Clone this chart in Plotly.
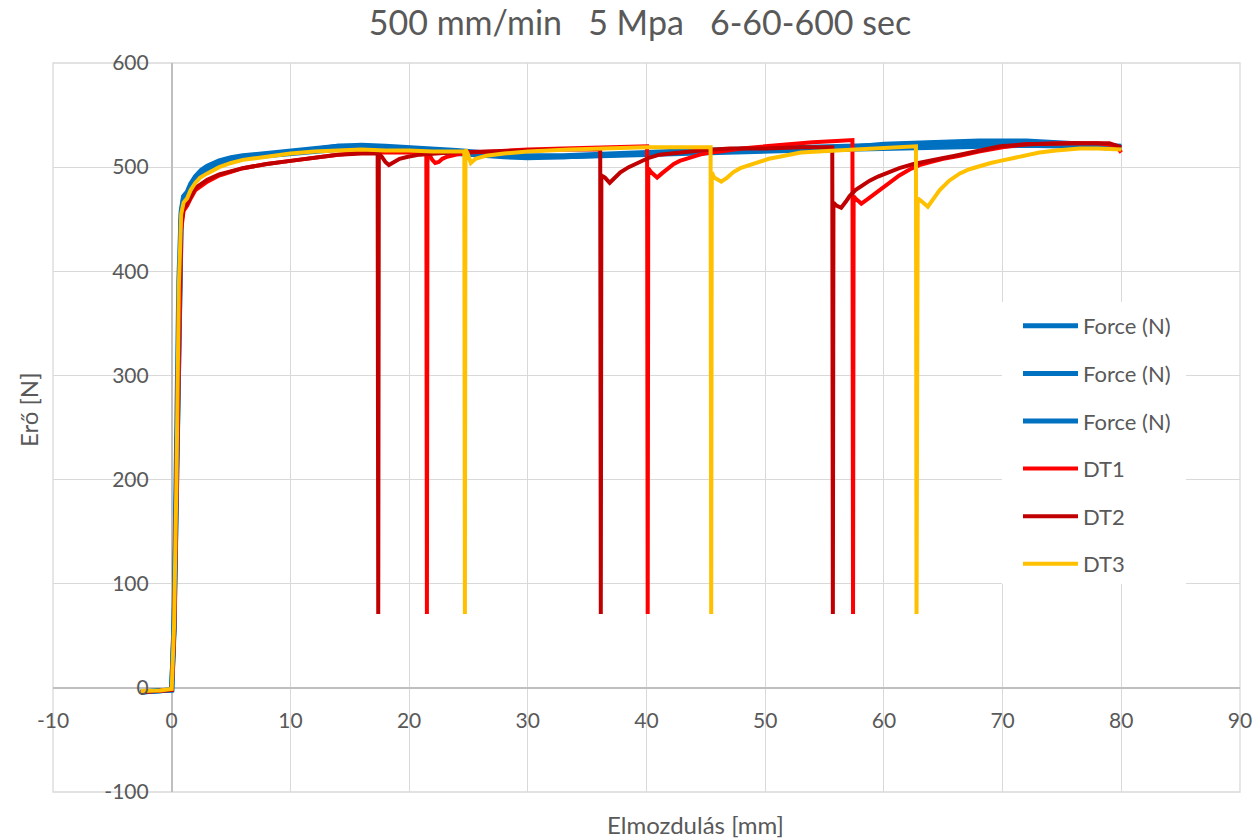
import plotly.graph_objects as go

# Displacement (mm) / force (N) curves: three reference force runs and three DT runs
f1_x = [-2.6, -1, 0, 0.2, 0.4, 0.6, 0.8, 1.0, 1.3, 1.6, 2, 2.5, 3, 4, 5, 6, 8, 10, 12, 14, 16, 18, 20, 22, 24, 26, 28, 30, 33, 36, 40, 44, 48, 52, 56, 60, 64, 68, 72, 76, 80]
f1_y = [-4, -3, -2, 60, 200, 380, 455, 470, 474, 482, 490, 496, 500, 505, 508, 510, 512, 514, 517, 520, 521, 520, 519, 518, 516, 514, 512, 511, 511, 512, 514, 516, 517, 518, 519, 521, 523, 524, 524, 522, 519]

f2_x = [-2.6, -1, 0, 0.2, 0.4, 0.6, 0.8, 1.0, 1.3, 1.6, 2, 2.5, 3, 4, 5, 6, 8, 10, 12, 14, 16, 18, 20, 22, 24, 26, 28, 30, 33, 36, 40, 44, 48, 52, 56, 60, 64, 68, 72, 76, 80]
f2_y = [-4, -3, -2, 55, 190, 370, 450, 466, 471, 479, 487, 494, 498, 503, 506, 509, 511, 513, 515, 518, 519, 518, 517, 515, 513, 511, 510, 509, 510, 511, 513, 514, 515, 516, 517, 518, 520, 521, 521, 520, 518]

f3_x = [-2.6, -1, 0, 0.2, 0.4, 0.6, 0.8, 1.0, 1.3, 1.6, 2, 2.5, 3, 4, 5, 6, 8, 10, 12, 14, 16, 18, 20, 22, 24, 26, 28, 30, 33, 36, 40, 44, 48, 52, 56, 60, 64, 68, 72, 76, 80]
f3_y = [-4, -3, -2, 65, 210, 390, 458, 472, 476, 484, 491, 497, 501, 506, 509, 511, 513, 515, 518, 520, 520, 519, 518, 517, 515, 513, 511, 510, 510, 511, 513, 515, 516, 517, 518, 522, 524, 525, 525, 523, 520]

dt1_x = [-2.6, -1, 0, 0.2, 0.4, 0.6, 0.8, 1.0, 1.3, 1.6, 2, 3, 4, 6, 8, 10, 12, 14, 16, 18, 20, 21.45, 21.5, 21.55, 21.7, 21.95, 22.2, 22.5, 22.8, 23.2, 24, 25, 27, 30, 33, 36, 38, 40.05, 40.1, 40.15, 40.4, 40.9, 41.3, 41.8, 42.3, 42.8, 43.6, 44.5, 45.3, 46.2, 48, 50, 52, 54, 56, 57.35, 57.4, 57.45, 57.6, 58.1, 58.6, 59.2, 59.9, 60.6, 61.3, 62.2, 63, 64, 65, 66.4, 68, 70, 72, 75, 78, 79.5, 80]
dt1_y = [-4, -3, -2, 50, 180, 360, 440, 458, 463, 470, 478, 486, 492, 499, 503, 506, 509, 512, 514, 514, 514, 514, 71, 514, 512, 507, 504, 505, 508, 510, 512, 514, 515, 517, 518, 519, 520, 520, 71, 499, 495, 490, 494, 499, 503, 506, 509, 512, 514, 515, 518, 520, 522, 524, 525, 526, 71, 472, 470, 465, 469, 474, 480, 486, 492, 498, 502, 505, 508, 511, 515, 519, 522, 523, 523, 521, 514]

dt2_x = [-2.6, -1, 0, 0.2, 0.4, 0.6, 0.8, 1.0, 1.3, 1.6, 2, 3, 4, 6, 8, 10, 12, 14, 16, 17.35, 17.4, 17.45, 17.7, 18.0, 18.3, 18.7, 19.2, 19.9, 20.9, 23.4, 26, 30, 33, 36.1, 36.15, 36.2, 36.5, 36.9, 37.3, 37.8, 38.5, 39.4, 40.2, 41.1, 42.5, 44.5, 47, 50, 53, 55.65, 55.7, 55.75, 56.0, 56.4, 56.8, 57.1, 57.6, 58.2, 58.8, 59.5, 60.3, 61.3, 62.5, 63.5, 64.7, 66, 67, 68.1, 69.8, 72, 76, 79, 80]
dt2_y = [-4, -3, -2, 55, 190, 370, 445, 460, 465, 472, 480, 488, 493, 499, 503, 506, 509, 512, 513, 513, 71, 513, 510, 505, 502, 505, 508, 510, 512, 514, 515, 516, 517, 517, 71, 492, 490, 485, 489, 495, 500, 505, 509, 512, 514, 516, 518, 518, 519, 519, 71, 466, 463, 461, 467, 472, 478, 483, 487, 491, 495, 499, 503, 505, 508, 511, 513, 516, 520, 522, 523, 523, 519]

dt3_x = [-2.6, -1, 0, 0.2, 0.4, 0.6, 0.8, 1.0, 1.3, 1.6, 2, 2.4, 3, 3.5, 4, 5, 6, 8, 10, 12, 14, 16, 18, 20, 22, 24.65, 24.7, 24.75, 24.9, 25.2, 25.6, 26.5, 28, 30, 33.5, 36, 40, 43, 45.4, 45.45, 45.5, 45.7, 46.3, 46.8, 47.3, 47.9, 48.7, 49.5, 50.3, 51.2, 52, 53, 56, 59, 62.7, 62.75, 62.85, 63.1, 63.7, 64.2, 64.7, 65.5, 66.4, 67.2, 68, 69, 69.8, 71, 72, 73.1, 74.5, 76.5, 78, 80]
dt3_y = [-3, -2.5, -1, 60, 200, 385, 455, 466, 470, 478, 485, 490, 494, 497, 500, 504, 507, 510, 513, 515, 516, 517, 516, 516, 515, 515, 71, 517, 514, 504, 508, 511, 513, 515, 517, 518, 519, 519, 519, 71, 495, 490, 486, 490, 495, 499, 502, 505, 508, 510, 512, 514, 516, 518, 520, 71, 470, 468, 462, 470, 478, 487, 494, 498, 501, 504, 506, 509, 512, 514, 516, 518, 518, 517]

x_ticks = [-10, 0, 10, 20, 30, 40, 50, 60, 70, 80, 90]
x_tick_text = ["-10", "0", "10", "20", "30", "40", "50", "60", "70", "80", "90"]
y_ticks = [-100, 0, 100, 200, 300, 400, 500, 600]
y_tick_text = ["-100", "0", "100", "200", "300", "400", "500", "600"]

FONT = "Lato"
TXT = "#595959"
W, H = 1255, 839
L, R, T, B = 53, 15, 63, 47
PW, PH = W - L - R, H - T - B

series = [
    ("Force (N)", f1_x, f1_y, "#0070C0", 5),
    ("Force (N)", f2_x, f2_y, "#0070C0", 5),
    ("Force (N)", f3_x, f3_y, "#0070C0", 5),
    ("DT1", dt1_x, dt1_y, "#FF0000", 4),
    ("DT2", dt2_x, dt2_y, "#C00000", 4),
    ("DT3", dt3_x, dt3_y, "#FFC000", 4),
]

fig = go.Figure()
for i, (name, xs, ys, color, w) in enumerate(series):
    fig.add_trace(go.Scatter(
        x=xs, y=ys, name=name, mode="lines", legendgroup=f"g{i}",
        line=dict(color=color, width=w),
    ))

x_lo, x_hi = -10, 90
y_lo, y_hi = -100, 600


def px_x(p):
    return (p - L) / PW


def px_y(p):
    return 1 - (p - T) / PH


fig.update_layout(
    width=W, height=H,
    margin=dict(l=L, r=R, t=T, b=B, autoexpand=False),
    paper_bgcolor="white", plot_bgcolor="white",
    font=dict(family=FONT, color=TXT, size=20),
    title=dict(text="500 mm/min\u00a0\u00a0\u00a05 Mpa\u00a0\u00a0\u00a06-60-600 sec",
               x=640 / W, xanchor="center", y=1 - 23 / H, yanchor="middle",
               yref="container", xref="container",
               font=dict(family=FONT, size=34, color=TXT)),
    xaxis=dict(range=[x_lo, x_hi], tickvals=x_ticks, ticktext=x_tick_text,
               showgrid=True, gridcolor="#D9D9D9", gridwidth=1.3, zeroline=True,
               zerolinecolor="#BFBFBF", zerolinewidth=1.8, ticks="",
               anchor="free", position=(0 - y_lo) / (y_hi - y_lo),
               ticklabelstandoff=18, tickfont=dict(size=21, color=TXT),
               automargin=False, domain=[0, 1]),
    yaxis=dict(range=[y_lo, y_hi], tickvals=y_ticks, ticktext=y_tick_text,
               showgrid=True, gridcolor="#D9D9D9", gridwidth=1.3, zeroline=True,
               zerolinecolor="#BFBFBF", zerolinewidth=1.8, ticks="",
               anchor="free", position=(0 - x_lo) / (x_hi - x_lo),
               ticklabelstandoff=23, tickfont=dict(size=21, color=TXT),
               automargin=False, domain=[0, 1]),
    legend=dict(x=px_x(1018), y=px_y(305), xanchor="left", yanchor="top",
                bgcolor="rgba(0,0,0,0)", borderwidth=0, tracegroupgap=16,
                font=dict(size=22, color=TXT), itemwidth=55),
    shapes=[
        dict(type="rect", xref="paper", yref="paper", x0=0, x1=1, y0=0, y1=1,
             line=dict(color="#D9D9D9", width=1.3), layer="below"),
        dict(type="rect", xref="paper", yref="paper", x0=px_x(1002), x1=px_x(1186),
             y0=px_y(584), y1=px_y(302), line=dict(width=0), fillcolor="white",
             layer="above"),
    ],
    annotations=[
        dict(text="Erő [N]", xref="paper", yref="paper", x=px_x(28),
             y=px_y(410), showarrow=False, textangle=-90,
             xanchor="center", yanchor="middle", font=dict(size=24, color=TXT)),
        dict(text="Elmozdulás [mm]", xref="paper", yref="paper", x=px_x(695),
             y=px_y(825), showarrow=False,
             xanchor="center", yanchor="middle", font=dict(size=24, color=TXT)),
    ],
)

fig.write_html("out.html")
